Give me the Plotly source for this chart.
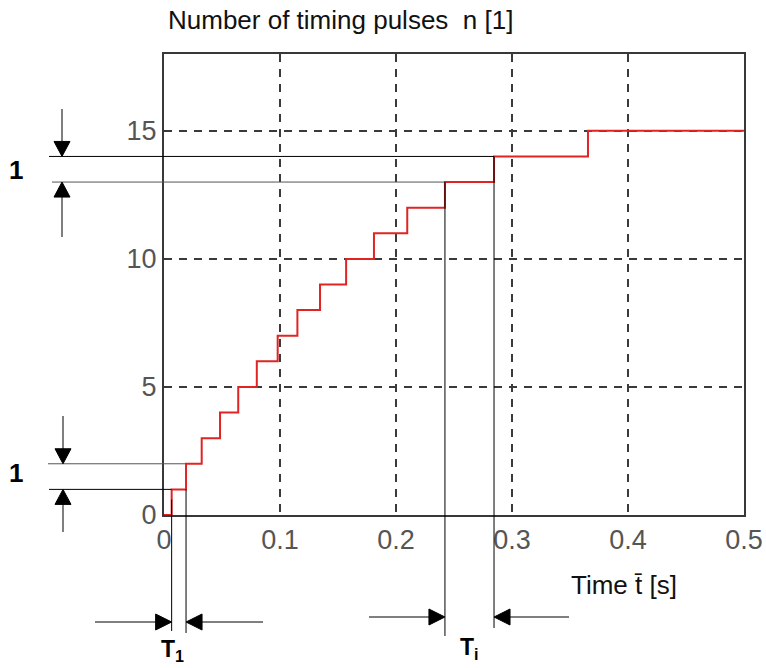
import plotly.graph_objects as go

# ---- data ----
pulse_times = [0.0066, 0.019, 0.0325, 0.0483, 0.064, 0.080, 0.098, 0.115,
               0.1345, 0.157, 0.181, 0.2097, 0.2422, 0.2845, 0.3655]
pulse_counts = [1, 2, 3, 4, 5, 6, 7, 8, 9, 10, 11, 12, 13, 14, 15]
x_ticks = [0, 0.1, 0.2, 0.3, 0.4, 0.5]
x_tick_text = ["0", "0.1", "0.2", "0.3", "0.4", "0.5"]
y_ticks = [0, 5, 10, 15]
y_tick_text = ["0", "5", "10", "15"]
x_range = [0, 0.5]
y_range = [0, 18]

# ---- layout geometry (pixels) ----
W, H = 766, 668
ML, MR, MT, MB = 164, 22, 54, 153
PW = W - ML - MR
PH = H - MT - MB


def fx(X):  # pixel x -> paper
    return (X - ML) / PW


def fy(Y):  # pixel y -> paper
    return (H - MB - Y) / PH


def tx(t):  # data x -> paper
    return (t - x_range[0]) / (x_range[1] - x_range[0])


def ny(n):  # data y -> paper
    return (n - y_range[0]) / (y_range[1] - y_range[0])


def to_px_x(t):
    return ML + tx(t) * PW


def to_px_y(n):
    return H - MB - ny(n) * PH


step_x = [x_range[0]] + pulse_times + [x_range[1]]
step_y = [0] + pulse_counts + [pulse_counts[-1]]

fig = go.Figure()
fig.add_trace(go.Scatter(
    x=step_x, y=step_y, mode="lines", line_shape="hv",
    line=dict(color="#e02424", width=2), showlegend=False, hoverinfo="skip",
    cliponaxis=False))

shapes = []


def line(X0, Y0, X1, Y1, color="#000", width=1):
    shapes.append(dict(type="line", xref="paper", yref="paper",
                       x0=fx(X0), y0=fy(Y0), x1=fx(X1), y1=fy(Y1),
                       line=dict(color=color, width=width)))


def tri(points):
    d = "M " + " L ".join(f"{fx(a)},{fy(b)}" for a, b in points) + " Z"
    shapes.append(dict(type="path", xref="paper", yref="paper", path=d,
                       fillcolor="#000", line=dict(color="#000", width=1)))


def arrow_down(X, Ytop, Ytip):
    line(X, Ytop, X, Ytip - 14)
    tri([(X - 8, Ytip - 15), (X + 8, Ytip - 15), (X, Ytip)])


def arrow_up(X, Ytip, Ybot):
    line(X, Ytip + 14, X, Ybot)
    tri([(X - 8, Ytip + 15), (X + 8, Ytip + 15), (X, Ytip)])


def arrow_right(Y, Xstart, Xtip):
    line(Xstart, Y, Xtip - 14, Y)
    tri([(Xtip - 16, Y - 8), (Xtip - 16, Y + 8), (Xtip, Y)])


def arrow_left(Y, Xstart, Xtip):
    line(Xtip + 14, Y, Xstart, Y)
    tri([(Xtip + 16, Y - 8), (Xtip + 16, Y + 8), (Xtip, Y)])


# upper dimension (levels 13 and 14, period T_i)
i13, i14 = 12, 13
X13, X14 = to_px_x(pulse_times[i13]), to_px_x(pulse_times[i14])
Y13, Y14 = to_px_y(pulse_counts[i13]), to_px_y(pulse_counts[i14])
line(49, Y14, X14, Y14, "#000")
line(52, Y13, X13, Y13, "#555")
line(X14, Y14, X14, 628, "#000")
line(X13, Y13, X13, 636, "#000")
arrow_down(62, 109, Y14)
arrow_up(62, Y13, 237)
arrow_right(617, 369, X13)
arrow_left(617, 569, X14)

# lower dimension (levels 1 and 2, period T_1)
X1, X2 = to_px_x(pulse_times[0]), to_px_x(pulse_times[1])
Y1, Y2 = to_px_y(pulse_counts[0]), to_px_y(pulse_counts[1])
line(48, Y2, X2, Y2, "#555")
line(49, Y1, X1, Y1, "#000")
line(X1, to_px_y(0.6), X1, 631, "#000")
line(X2, Y1, X2, 633, "#000")
arrow_down(63, 416, Y2)
arrow_up(63, Y1, 532)
arrow_right(622, 95, X1)
arrow_left(622, 263, X2)

fig.update_layout(shapes=shapes)

font_txt = "Liberation Sans, Arial, sans-serif"
annotations = [
    dict(text="Number of timing pulses\u00a0\u00a0n [1]", x=fx(166), y=fy(20),
         xanchor="left", yanchor="middle", font=dict(size=26, color="#111")),
    dict(text="Time t\u0304 [s]", x=fx(569), y=fy(585),
         xanchor="left", yanchor="middle", font=dict(size=26, color="#111")),
    dict(text="<b>1</b>", x=fx(16), y=fy(170), xanchor="center", yanchor="middle",
         font=dict(size=26, color="#000")),
    dict(text="<b>1</b>", x=fx(16), y=fy(473), xanchor="center", yanchor="middle",
         font=dict(size=26, color="#000")),
    dict(text="<b>T<sub>1</sub></b>", x=fx(172), y=fy(667), xanchor="center",
         yanchor="bottom", font=dict(size=23, color="#000")),
    dict(text="<b>T<sub>i</sub></b>", x=fx(469), y=fy(665), xanchor="center",
         yanchor="bottom", font=dict(size=23, color="#000")),
]
for a in annotations:
    a.update(xref="paper", yref="paper", showarrow=False)
fig.update_layout(annotations=annotations)

axis_common = dict(
    showgrid=True, gridcolor="#3a3a3a", gridwidth=2, griddash="8px,7px",
    showline=True, mirror=True, linecolor="#383838", linewidth=2,
    zeroline=False, ticks="", automargin=False,
    tickfont=dict(size=27, color="#555", family=font_txt),
)
fig.update_xaxes(range=x_range, tickvals=x_ticks, ticktext=x_tick_text, **axis_common)
fig.update_yaxes(range=y_range, tickvals=y_ticks, ticktext=y_tick_text, **axis_common)

fig.update_layout(
    width=W, height=H, autosize=False,
    margin=dict(l=ML, r=MR, t=MT, b=MB, pad=0, autoexpand=False),
    paper_bgcolor="white", plot_bgcolor="white",
    font=dict(family=font_txt, color="#000"),
    showlegend=False,
)

fig.write_html(
    "out.html",
    config={"displayModeBar": False, "responsive": False},
    post_script="document.body.style.margin='0';document.body.style.overflow='hidden';",
)
